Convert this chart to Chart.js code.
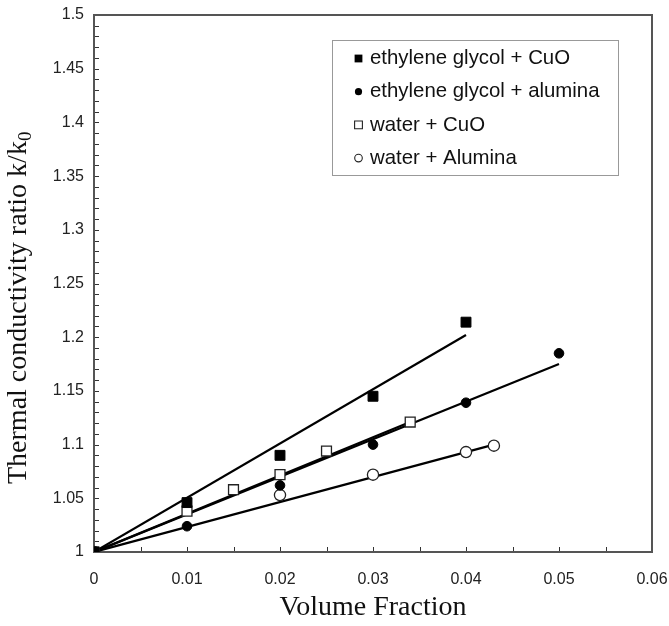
<!DOCTYPE html>
<html>
<head>
<meta charset="utf-8">
<script src="https://cdn.jsdelivr.net/npm/chart.js@4"></script>
<style>
html,body{margin:0;padding:0;background:#fff;}
canvas{display:block;}
</style>
</head>
<body>
<canvas id="c" width="669" height="626"></canvas>
<script>
// ---- data ----
const seriesLabels = ['ethylene glycol + CuO', 'ethylene glycol + alumina', 'water + CuO', 'water + Alumina'];

const xEgCuO = [0, 0.01, 0.02, 0.03, 0.04];
const yEgCuO = [1, 1.046, 1.090, 1.145, 1.214];

const xEgAl = [0, 0.01, 0.02, 0.03, 0.04, 0.05];
const yEgAl = [1, 1.024, 1.062, 1.100, 1.139, 1.185];

const xWCuO = [0, 0.01, 0.015, 0.02, 0.025, 0.034];
const yWCuO = [1, 1.038, 1.058, 1.072, 1.094, 1.121];

const xWAl = [0, 0.02, 0.03, 0.04, 0.043];
const yWAl = [1, 1.053, 1.072, 1.093, 1.099];

// fitted lines (start and end points)
const fitEgCuO = [[0, 1], [0.04, 1.202]];
const fitEgAl  = [[0, 1], [0.05, 1.175]];
const fitWCuO  = [[0, 1], [0.034, 1.121]];
const fitWAl   = [[0, 1], [0.043, 1.100]];

const xTicks = [0, 0.01, 0.02, 0.03, 0.04, 0.05, 0.06];
const yTicks = [1, 1.05, 1.1, 1.15, 1.2, 1.25, 1.3, 1.35, 1.4, 1.45, 1.5];

const xTitle = 'Volume Fraction';
const yTitleMain = 'Thermal conductivity ratio k/k';
const yTitleSub = '0';

// ---- helpers ----
const pts = (xs, ys) => xs.map((x, i) => ({x: x, y: ys[i]}));
const fit = f => f.map(p => ({x: p[0], y: p[1]}));
const fmt = v => String(+Number(v).toFixed(3));

const pointSets = [
  {label: seriesLabels[0], data: pts(xEgCuO, yEgCuO), pointStyle: 'rect', pointRadius: 7, backgroundColor: '#000', borderColor: '#000', borderWidth: 1, legendR: 5.2, legendFill: true},
  {label: seriesLabels[1], data: pts(xEgAl, yEgAl), pointStyle: 'circle', pointRadius: 4.8, backgroundColor: '#000', borderColor: '#000', borderWidth: 1, legendR: 3.6, legendFill: true},
  {label: seriesLabels[2], data: pts(xWCuO, yWCuO), pointStyle: 'rect', pointRadius: 7, backgroundColor: '#fff', borderColor: '#222', borderWidth: 1.3, legendR: 5.2, legendFill: false},
  {label: seriesLabels[3], data: pts(xWAl, yWAl), pointStyle: 'circle', pointRadius: 5.6, backgroundColor: '#fff', borderColor: '#222', borderWidth: 1.3, legendR: 3.8, legendFill: false}
].map(d => Object.assign(d, {showLine: false, isLegend: true, pointHoverRadius: d.pointRadius}));

const lineSets = [fitEgCuO, fitEgAl, fitWCuO, fitWAl].map(f => ({
  label: '', data: fit(f), showLine: true, pointRadius: 0, borderColor: '#000', borderWidth: 2.2, fill: false, isLegend: false
}));

// ---- plugins ----
const frameTicks = {
  id: 'frameTicks',
  beforeDatasetsDraw(chart) {
    const {ctx, chartArea: a, scales: {x, y}} = chart;
    ctx.save();
    ctx.strokeStyle = '#333';
    ctx.lineWidth = 1;
    ctx.beginPath();
    for (let i = 0; i < yTicks.length - 1; i++) {
      const step = (yTicks[i + 1] - yTicks[i]) / 5;
      for (let k = 0; k < 5; k++) {
        const py = Math.round(y.getPixelForValue(yTicks[i] + k * step)) + 0.5;
        ctx.moveTo(a.left, py); ctx.lineTo(a.left + 5, py);
      }
    }
    for (let i = 0; i < xTicks.length - 1; i++) {
      const step = (xTicks[i + 1] - xTicks[i]) / 2;
      for (let k = 0; k < 2; k++) {
        const px = Math.round(x.getPixelForValue(xTicks[i] + k * step)) + 0.5;
        ctx.moveTo(px, a.bottom); ctx.lineTo(px, a.bottom - 5);
      }
    }
    ctx.stroke();
    ctx.strokeStyle = '#555';
    ctx.lineWidth = 2;
    ctx.strokeRect(a.left, a.top, a.right - a.left, a.bottom - a.top);
    ctx.restore();
  },
  afterDraw(chart) {
    const {ctx} = chart;
    ctx.save();
    ctx.fillStyle = '#111';
    ctx.translate(26, 484);
    ctx.rotate(-Math.PI / 2);
    ctx.textAlign = 'left';
    ctx.textBaseline = 'alphabetic';
    ctx.font = '28px "Liberation Serif", "Times New Roman", serif';
    ctx.fillText(yTitleMain, 0, 0);
    const w = ctx.measureText(yTitleMain).width;
    ctx.font = '19px "Liberation Serif", "Times New Roman", serif';
    ctx.fillText(yTitleSub, w, 5);
    ctx.restore();

    ctx.save();
    ctx.strokeStyle = '#999';
    ctx.lineWidth = 1;
    ctx.fillStyle = '#fff';
    ctx.fillRect(332.5, 40.5, 286, 135);
    ctx.strokeRect(332.5, 40.5, 286, 135);
    const items = chart.data.datasets.filter(d => d.isLegend);
    ctx.font = '20.4px "Liberation Sans", Arial, sans-serif';
    ctx.textBaseline = 'middle';
    ctx.textAlign = 'left';
    items.forEach((d, i) => {
      const cy = 58.5 + i * 33.2;
      const cx = 358.5;
      ctx.beginPath();
      if (d.pointStyle === 'rect') {
        const s = d.legendR * 0.75;
        ctx.rect(cx - s, cy - s, 2 * s, 2 * s);
      } else {
        ctx.arc(cx, cy, d.legendR, 0, Math.PI * 2);
      }
      if (d.legendFill) { ctx.fillStyle = '#000'; ctx.fill(); }
      else { ctx.fillStyle = '#fff'; ctx.fill(); ctx.strokeStyle = '#222'; ctx.lineWidth = 1.1; ctx.stroke(); }
      ctx.fillStyle = '#111';
      ctx.fillText(d.label, 370, cy);
    });
    ctx.restore();
  }
};

new Chart(document.getElementById('c').getContext('2d'), {
  type: 'scatter',
  data: {datasets: pointSets.concat(lineSets)},
  options: {
    responsive: false,
    animation: false,
    layout: {padding: {top: 15, right: 17, left: 0, bottom: 0}},
    plugins: {legend: {display: false}, tooltip: {enabled: false}},
    scales: {
      x: {
        type: 'linear', min: 0, max: 0.06,
        afterBuildTicks: s => { s.ticks = xTicks.map(v => ({value: v})); },
        grid: {display: false, drawTicks: false},
        border: {display: false},
        ticks: {padding: 18, color: '#222', font: {family: '"Liberation Sans", Arial, sans-serif', size: 16}, callback: v => fmt(v), maxRotation: 0, autoSkip: false},
        title: {display: true, text: xTitle, color: '#111', font: {family: '"Liberation Serif", "Times New Roman", serif', size: 28}, padding: {top: 0, bottom: 2}},
        afterFit: s => { s.height = 74; s.paddingLeft = 0; s.paddingRight = 0; }
      },
      y: {
        type: 'linear', min: 1, max: 1.5,
        afterBuildTicks: s => { s.ticks = yTicks.map(v => ({value: v})); },
        grid: {display: false, drawTicks: false},
        border: {display: false},
        ticks: {padding: 10, color: '#222', font: {family: '"Liberation Sans", Arial, sans-serif', size: 16}, callback: v => fmt(v), autoSkip: false},
        afterFit: s => { s.width = 94; s.paddingTop = 0; s.paddingBottom = 0; }
      }
    }
  },
  plugins: [frameTicks]
});
</script>
</body>
</html>
